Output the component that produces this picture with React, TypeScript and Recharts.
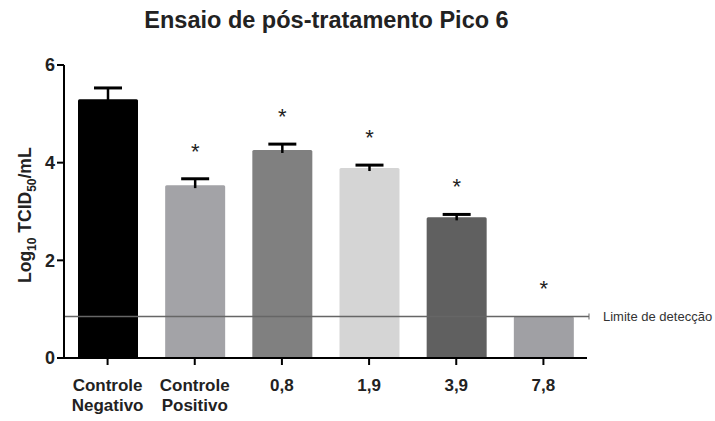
import { Bar, BarChart, ReferenceLine, XAxis, YAxis } from "recharts";

// Post-treatment assay, peak 6: mean viral titer per group (log10 TCID50/mL)
const groups = ["Controle Negativo", "Controle Positivo", "0,8", "1,9", "3,9", "7,8"];
const meanTiters = [5.3, 3.54, 4.26, 3.89, 2.88, 0.85];
const sdTiters = [0.23, 0.13, 0.12, 0.06, 0.06, 0];
const significant = [false, true, true, true, true, true];
const yTicks = [0, 2, 4, 6];
const detectionLimit = 0.85;

const barColors = ["#000000", "#a3a3a7", "#808080", "#d5d5d5", "#606060", "#a0a0a4"];
const FONT = '"Liberation Sans", Arial, Helvetica, sans-serif';

const chartData = groups.map((group, i) => ({
    group,
    mean: meanTiters[i],
    sd: sdTiters[i],
    significant: significant[i],
}));

// bar + one-sided SD whisker + significance star
const TiterBar = (props: any) => {
    const { x, y, width, height, payload, index } = props;
    const unit = payload.mean ? height / payload.mean : 0;
    const errTop = y - payload.sd * unit;
    const cx = x + width / 2;
    return (
        <g>
            <rect x={x} y={y} width={width} height={height} rx={1.5} fill={barColors[index]} />
            {payload.sd > 0 && (
                <g stroke="#000">
                    <line x1={cx} x2={cx} y1={y + 3} y2={errTop} strokeWidth={2.5} />
                    <line x1={cx - 14} x2={cx + 14} y1={errTop} y2={errTop} strokeWidth={3} />
                </g>
            )}
            {payload.significant && (
                <text x={cx} y={errTop - 20} textAnchor="middle" fontSize={22} fill="#222" fontFamily={FONT}>
                    *
                </text>
            )}
        </g>
    );
};

const GroupTick = (props: any) => {
    const { x, y, payload } = props;
    const lines = String(payload.value).split(" ");
    return (
        <text x={x} y={y} textAnchor="middle" fontSize={17} fontWeight="bold" fill="#222" fontFamily={FONT}>
            {lines.map((line, i) => (
                <tspan key={i} x={x} dy={i === 0 ? 24 : 20}>
                    {line}
                </tspan>
            ))}
        </text>
    );
};

const renderYLabel = () => (
    <text
        transform="translate(31, 283) rotate(-90)"
        textAnchor="start"
        fontSize={17.5}
        fontWeight="bold"
        fill="#222"
        fontFamily={FONT}
    >
        Log<tspan fontSize={12} dy={5}>10</tspan>
        <tspan dy={-5}> TCID</tspan>
        <tspan fontSize={12} dy={5}>50</tspan>
        <tspan dy={-5}>/mL</tspan>
    </text>
);

const renderLimitLabel = (props: any) => {
    const { viewBox } = props;
    const endX = viewBox.x + viewBox.width + 2;
    return (
        <g>
            <line x1={endX - 2} x2={endX} y1={viewBox.y} y2={viewBox.y} stroke="#666" strokeWidth={1.5} />
            <line x1={endX} x2={endX} y1={viewBox.y - 3} y2={viewBox.y + 3} stroke="#666" strokeWidth={1} />
            <text x={endX + 14} y={viewBox.y + 4.5} fontSize={13} fill="#333" fontFamily={FONT}>
                Limite de detecção
            </text>
        </g>
    );
};

export default function App() {
    return (
        <div style={{ position: "absolute", left: 0, top: 0, width: 715, height: 421, background: "#fff" }}>
            <div
                style={{
                    position: "absolute",
                    left: 0,
                    top: 7,
                    width: 653,
                    textAlign: "center",
                    fontFamily: FONT,
                    fontWeight: "bold",
                    fontSize: 23.5,
                    color: "#222",
                }}
            >
                Ensaio de pós-tratamento Pico 6
            </div>
            <BarChart
                width={715}
                height={421}
                data={chartData}
                margin={{ top: 65, right: 128, bottom: 0, left: 0 }}
                barSize={60}
            >
                <XAxis
                    dataKey="group"
                    height={63}
                    interval={0}
                    axisLine={{ stroke: "#000", strokeWidth: 2 }}
                    tickLine={{ stroke: "#000", strokeWidth: 2 }}
                    tickSize={7}
                    tick={<GroupTick />}
                />
                <YAxis
                    width={64}
                    domain={[0, 6]}
                    ticks={yTicks}
                    axisLine={{ stroke: "#000", strokeWidth: 2 }}
                    tickLine={{ stroke: "#000", strokeWidth: 2 }}
                    tickSize={7}
                    tick={{ fontSize: 18, fontWeight: "bold", fill: "#222", fontFamily: FONT }}
                    label={renderYLabel}
                />
                <Bar dataKey="mean" shape={<TiterBar />} isAnimationActive={false} />
                <ReferenceLine
                    y={detectionLimit}
                    stroke="#666"
                    strokeWidth={1.5}
                    label={renderLimitLabel}
                />
            </BarChart>
        </div>
    );
}
